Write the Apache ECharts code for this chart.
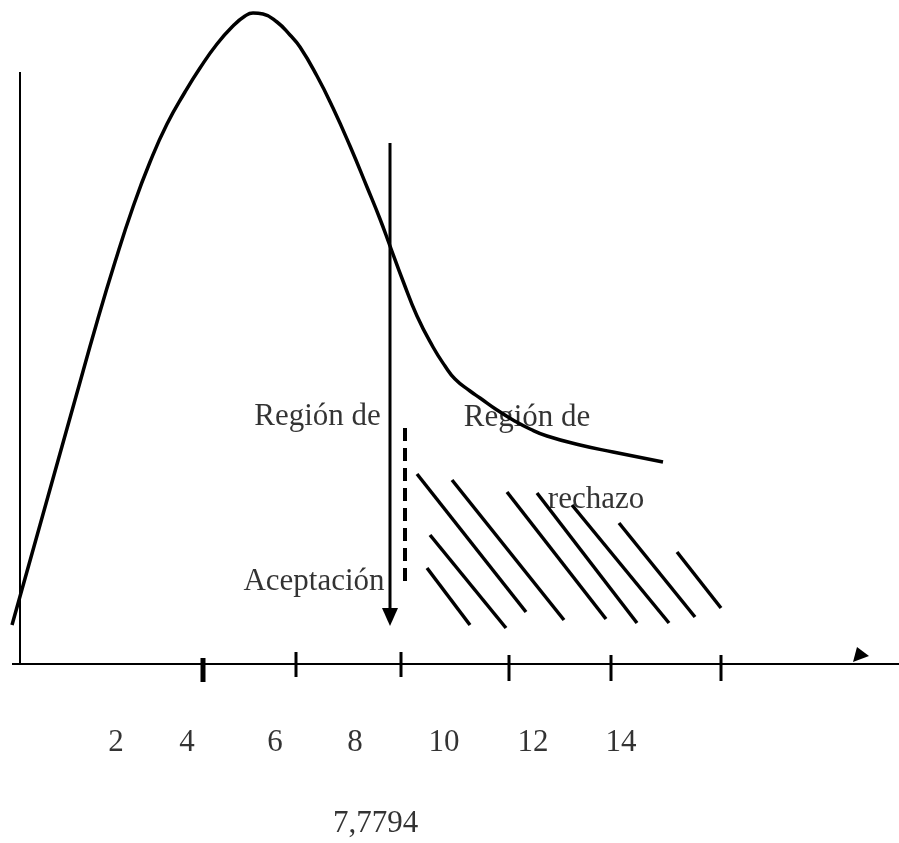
<!DOCTYPE html>
<html>
<head>
<meta charset="utf-8">
<script src="https://cdn.jsdelivr.net/npm/echarts@6/dist/echarts.min.js"></script>
<style>
  html, body { margin: 0; padding: 0; background: #ffffff; }
  #chart { width: 899px; height: 843px; }
</style>
</head>
<body>
<div id="chart"></div>
<script>
// ---- data (drawing units: x right, y up; axes cross at 0,0) ----
const curve = [
  [-0.8, 3.9], [2.0, 13.9], [5.5, 26.4], [7.7, 34.2], [9.5, 40.2], [11.3, 45.7],
  [13.0, 50.2], [14.7, 54.0], [16.5, 57.2], [18.0, 59.6], [19.7, 62.0], [21.3, 63.8],
  [22.5, 64.8], [23.3, 65.1], [24.3, 65.0], [25.7, 64.2], [27.0, 62.9], [28.0, 61.7],
  [29.7, 58.8], [31.3, 55.6], [33.0, 51.8], [34.7, 47.7], [36.0, 44.5], [37.0, 41.8],
  [38.3, 38.3], [39.7, 34.8], [41.3, 31.7], [42.5, 29.8], [43.5, 28.5], [45.0, 27.3],
  [46.0, 26.6], [47.7, 25.4], [49.3, 24.4], [51.0, 23.5], [52.7, 22.8], [56.0, 21.9],
  [59.3, 21.2], [64.3, 20.2]
];
const xAxisLine = [[-0.8, 0], [87.9, 0]];
const yAxisLine = [[0, 0], [0, 59.2]];
const xArrowHead = [[83.3, 0.2], [84.9, 0.8], [83.7, 1.7]];
const tickX = [18.3, 27.6, 38.1, 48.9, 59.1, 70.1];
const tickTop = [0.6, 1.2, 1.2, 0.9, 0.9, 0.9];
const tickBottom = [-1.8, -1.3, -1.3, -1.7, -1.7, -1.7];
const hatchLines = [
  [40.7, 9.6, 45.0, 3.9],
  [41.0, 12.9, 48.6, 3.6],
  [39.7, 19.0, 50.6, 5.2],
  [43.2, 18.4, 54.4, 4.4],
  [48.7, 17.2, 58.6, 4.5],
  [51.7, 17.1, 61.7, 4.1],
  [55.2, 15.9, 64.9, 4.1],
  [59.9, 14.1, 67.5, 4.7],
  [65.7, 11.2, 70.1, 5.6]
];
const criticalArrow = { x: 37.0, top: 52.1, headBase: 5.6, tip: 3.8, halfWidth: 0.8 };
const dashedLine = [[38.5, 23.6], [38.5, 8.1]];
const tickLabels = ['2', '4', '6', '8', '10', '12', '14'];
const tickLabelX = [9.6, 16.7, 25.5, 33.5, 42.4, 51.3, 60.1];
const tickLabelY = -7.9;
const criticalLabel = { text: '7,7794', x: 35.55, y: -16.0 };
const regionTexts = [
  { text: 'Región de', x: 29.75, y: 24.7 },
  { text: 'Aceptación', x: 29.4, y: 8.2 },
  { text: 'Región de', x: 50.7, y: 24.6 },
  { text: 'rechazo', x: 57.6, y: 16.4 }
];

// ---- build ----
const FONT = "'Liberation Serif', 'Times New Roman', serif";
const tickSegs = tickX.map((x, i) => [x, tickTop[i], x, tickBottom[i], i === 0 ? 5 : 3]);

function segmentItem(params, api) {
  const p1 = api.coord([api.value(0), api.value(1)]);
  const p2 = api.coord([api.value(2), api.value(3)]);
  return {
    type: 'line',
    shape: { x1: p1[0], y1: p1[1], x2: p2[0], y2: p2[1] },
    style: { stroke: '#000', lineWidth: api.value(4) || 3.5, lineCap: 'butt' }
  };
}

const textData = regionTexts.map(t => ({ name: t.text, value: [t.x, t.y] }))
  .concat(tickLabels.map((t, i) => ({ name: t, value: [tickLabelX[i], tickLabelY] })))
  .concat([{ name: criticalLabel.text, value: [criticalLabel.x, criticalLabel.y] }]);

const chart = echarts.init(document.getElementById('chart'), null, { renderer: 'canvas' });
chart.setOption({
  animation: false,
  backgroundColor: '#ffffff',
  grid: { left: 0, right: 0, top: 0, bottom: 0 },
  xAxis: { type: 'value', min: -2, max: 87.9, show: false },
  yAxis: { type: 'value', min: -17.9, max: 66.4, show: false },
  series: [
    {
      type: 'line', data: curve, smooth: 0.5, symbol: 'none',
      lineStyle: { color: '#000', width: 3.5 }, z: 3
    },
    {
      type: 'line', data: xAxisLine, symbol: 'none',
      lineStyle: { color: '#000', width: 2 }
    },
    {
      type: 'line', data: yAxisLine, symbol: 'none',
      lineStyle: { color: '#000', width: 2 }
    },
    {
      type: 'custom', data: [xArrowHead.flat()],
      renderItem: function (params, api) {
        const pts = [];
        for (let i = 0; i < 3; i++) pts.push(api.coord([api.value(2 * i), api.value(2 * i + 1)]));
        return { type: 'polygon', shape: { points: pts }, style: { fill: '#000' } };
      }
    },
    { type: 'custom', data: tickSegs, renderItem: segmentItem },
    { type: 'custom', data: hatchLines, renderItem: segmentItem },
    {
      type: 'custom',
      data: [[criticalArrow.x, criticalArrow.top, criticalArrow.headBase, criticalArrow.tip, criticalArrow.halfWidth]],
      renderItem: function (params, api) {
        const x = api.value(0);
        const top = api.coord([x, api.value(1)]);
        const base = api.coord([x, api.value(2)]);
        const tip = api.coord([x, api.value(3)]);
        const left = api.coord([x - api.value(4), api.value(2)]);
        const right = api.coord([x + api.value(4), api.value(2)]);
        return {
          type: 'group',
          children: [
            { type: 'line', shape: { x1: top[0], y1: top[1], x2: base[0], y2: base[1] + 2 },
              style: { stroke: '#000', lineWidth: 3 } },
            { type: 'polygon', shape: { points: [left, right, tip] }, style: { fill: '#000' } }
          ]
        };
      }
    },
    {
      type: 'line', data: dashedLine, symbol: 'none',
      lineStyle: { color: '#000', width: 4, type: [13, 7], cap: 'butt' }
    },
    {
      type: 'scatter', data: textData, symbolSize: 0.1,
      itemStyle: { color: 'transparent' }, z: 5,
      label: {
        show: true, position: 'inside', formatter: '{b}',
        fontFamily: FONT, fontSize: 31, color: '#000', textBorderWidth: 0,
        align: 'center', verticalAlign: 'middle'
      }
    }
  ]
});
</script>
</body>
</html>
